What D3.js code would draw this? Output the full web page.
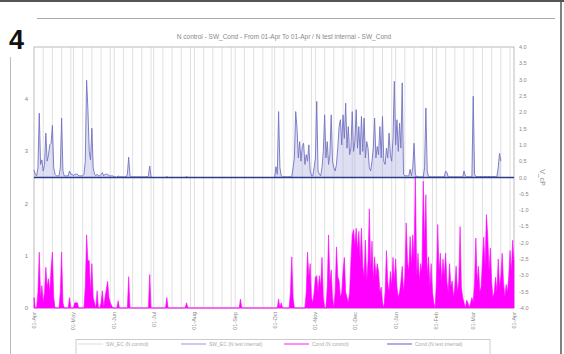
<!DOCTYPE html>
<html>
<head>
<meta charset="utf-8">
<script src="https://cdn.jsdelivr.net/npm/d3@7"></script>
<style>
  body { margin: 0; background: #fff; }
  text { font-family: "Liberation Sans", Arial, sans-serif; }
</style>
</head>
<body>
<div class="chart"></div>
<script>
const START = new Date(2012, 3, 1);
const END = new Date(2013, 3, 1);

const TITLE = "N control - SW_Cond - From 01-Apr To 01-Apr / N test internal - SW_Cond";
const MONTH_LABELS = ["01-Apr", "01-May", "01-Jun", "01-Jul", "01-Aug", "01-Sep", "01-Oct",
  "01-Nov", "01-Dec", "01-Jan", "01-Feb", "01-Mar", "01-Apr"];
const LEFT_TICKS = [0, 1, 2, 3, 4];
const RIGHT_TICKS = [4, 3.5, 3, 2.5, 2, 1.5, 1, 0.5, 0, -0.5, -1, -1.5, -2, -2.5, -3, -3.5, -4];
const LEGEND = ["SW_EC (N control)", "SW_EC (N test internal)", "Cond (N control)", "Cond (N test internal)"];

// daily values, 01-Apr .. 01-Apr (366 days)
// control: right axis
const control = [
  0.23, 0.1, 0.05, 0.3, 1.97, 0.4, 0.54, 0.2, 0.4, 1.36, 0.5, 0.69, 1.0, 1.05, 1.6, 0.3, 0.1, 0.05, 0.05, 0.05,
  0.3, 1.82, 0.2, 0.05, 0.05, 0.05, 0.05, 0.2, 0.1, 0.1, 0.05, 0.1, 0.1, 0.1, 0.05, 0.05, 0.05, 0.05, 0.1, 0.5,
  2.98, 2.08, 0.8, 0.54, 1.51, 0.3, 0.1, 0.05, 0.1, 0.05, 0.05, 0.1, 0.15, 0.05, 0.1, 0.1, 0.1, 0.05, 0.05, 0.05,
  0.05, 0.02, 0.02, 0, 0.05, 0.02, 0.02, 0.02, 0.02, 0.02, 0.02, 0.1, 0.62, 0.05, 0.02, 0.02, 0.02, 0.02, 0.02, 0.02,
  0.02, 0.02, 0.02, 0.02, 0.02, 0.02, 0.02, 0.05, 0.35, 0.02, 0, 0, 0, 0, 0, 0, 0, 0, 0, 0,
  0, 0.03, 0, 0, 0, 0, 0, 0, 0, 0, 0, 0, 0, 0, 0, 0, 0.03, 0, 0, 0,
  0, 0, 0, 0, 0, 0, 0, 0, 0, 0, 0, 0, 0, 0, 0, 0, 0, 0, 0, 0,
  0, 0, 0, 0, 0, 0, 0, 0, 0, 0, 0, 0, 0, 0, 0, 0, 0, 0, 0, 0,
  0, 0, 0, 0, 0, 0, 0, 0, 0, 0, 0, 0, 0, 0, 0, 0, 0, 0, 0, 0,
  0, 0, 0, 0, 0.33, 0.1, 2.02, 0.3, 0.05, 0.02, 0.02, 0.02, 0.02, 0.02, 0.02, 0.02, 0.02, 0.3, 0.6, 2.02,
  1.51, 0.6, 1.1, 0.5, 0.95, 1.05, 0.4, 0.7, 0.5, 1.0, 0.2, 0.05, 0.05, 0.3, 0.6, 2.33, 0.2, 0.1, 0.05, 0.3,
  0.8, 1.92, 0.6, 1.1, 0.4, 0.7, 1.92, 0.5, 0.3, 0.2, 0.4, 0.9, 1.56, 1.77, 1.0, 1.92, 1.2, 2.28, 0.9, 1.56,
  0.7, 0.9, 2.02, 0.8, 1.1, 2.08, 0.9, 1.56, 0.7, 1.87, 0.8, 1.82, 0.6, 1.1, 0.9, 0.3, 0.2, 0.5, 0.9, 1.82,
  0.6, 0.95, 0.7, 1.56, 0.6, 1.87, 0.5, 0.4, 0.9, 0.6, 1.36, 0.7, 0.5, 1.2, 2.95, 1.0, 1.77, 0.8, 1.67, 0.9,
  2.9, 0.1, 0.05, 0.05, 0.05, 0.05, 0.25, 0.05, 0.3, 1.05, 0.1, 0.02, 0.02, 0.02, 0.02, 0.02, 0.02, 0.3, 2.13, 0.2,
  0.02, 0.02, 0.02, 0.02, 0.02, 0.02, 0.02, 0.02, 0.02, 0.02, 0.02, 0.02, 0.02, 0.2, 0.15, 0.02, 0.02, 0.02, 0.02, 0.02,
  0.02, 0.02, 0.02, 0.02, 0.02, 0.02, 0.02, 0.2, 0.05, 0.02, 0.02, 0.02, 0.02, 0.02, 2.49, 0.1, 0.03, 0.03, 0.03, 0.03,
  0.03, 0.03, 0.03, 0.03, 0.03, 0.03, 0.03, 0.03, 0.03, 0.03, 0.03, 0.03, 0.03, 0.3, 0.74, 0.5
];

// test internal: left axis
const test = [
  0.2, 0, 0, 0.3, 1.07, 0.2, 0.43, 0.1, 0.3, 0.78, 0.4, 0.56, 0.3, 0.76, 1.07, 0.2, 0, 0, 0, 0,
  0.3, 1.07, 0.1, 0, 0, 0, 0, 0.2, 0, 0, 0, 0.1, 0.1, 0.1, 0, 0, 0, 0, 0, 0.4,
  1.4, 0.9, 0.91, 0.3, 0.85, 0.2, 0.1, 0, 0.33, 0, 0, 0.1, 0.33, 0, 0.2, 0.36, 0.51, 0.2, 0.1, 0.05,
  0, 0, 0, 0, 0.14, 0, 0, 0, 0, 0, 0, 0, 0.6, 0, 0, 0, 0, 0, 0, 0,
  0, 0, 0, 0, 0, 0, 0, 0, 0.64, 0, 0, 0, 0, 0, 0, 0, 0, 0, 0, 0,
  0, 0.2, 0, 0, 0, 0, 0, 0, 0, 0, 0, 0, 0, 0, 0, 0, 0.1, 0, 0, 0,
  0, 0, 0, 0, 0, 0, 0, 0, 0, 0, 0, 0, 0, 0, 0, 0, 0, 0, 0, 0,
  0, 0, 0, 0, 0, 0, 0, 0, 0, 0, 0, 0, 0, 0, 0, 0, 0, 0.17, 0, 0,
  0, 0, 0, 0, 0, 0, 0, 0, 0, 0, 0, 0, 0, 0, 0, 0, 0, 0, 0, 0,
  0, 0, 0, 0, 0, 0, 0.17, 0, 0.1, 0, 0, 0, 0, 0, 0, 0.3, 0.98, 0.2, 0, 0,
  0, 0, 0, 0, 0, 0, 0, 0.3, 1.07, 0.6, 0.85, 0.2, 0.1, 0.3, 0.59, 0.62, 0.3, 0.62, 0.4, 0.97,
  0.2, 0, 0, 0.4, 1.4, 0.5, 0.73, 0.2, 0, 0.3, 1.17, 0.6, 0.52, 0.2, 0.3, 0.7, 0.97, 0.3, 0.2, 0.1,
  0.3, 0.9, 1.4, 1.5, 1.2, 1.53, 1.1, 1.47, 0.9, 1.53, 0.8, 0.6, 1.3, 0.5, 0.9, 1.9, 0.7, 1.28, 0.5, 0.98,
  0.6, 0.85, 0.7, 0.3, 0.4, 0.1, 0, 0.3, 1.1, 0.5, 0.3, 0.7, 0.4, 0.97, 0.5, 0.94, 0.4, 0.2, 0.3, 0.5,
  0.8, 0.3, 0.6, 1.63, 0.9, 0.7, 1.37, 0.8, 1.4, 0.9, 2.53, 0.6, 1.05, 0.5, 0.85, 0.7, 2.43, 1.2, 2.17, 0.6,
  0.98, 0.4, 0.85, 0.3, 0.1, 0, 0.5, 1.6, 0.7, 1.05, 0.5, 0.94, 0.6, 1.05, 0.5, 0.3, 0.85, 0.4, 0.52, 0.2,
  0.4, 0.8, 0.3, 0.5, 1.56, 0.4, 0.2, 0.1, 0, 0.15, 0.1, 0, 0.1, 0.2, 0.1, 0.5, 1.34, 0.5, 0.8, 0.3,
  0.4, 0.9, 1.36, 0.8, 1.79, 1.4, 0.7, 1.15, 0.5, 0.2, 0.3, 0.59, 0.3, 0.94, 0.4, 0.6, 1.05, 0.5, 0.2, 0.45,
  0.3, 0.6, 1.1, 0.7, 1.3, 0.9
];

const W = 564, H = 354;
const PL = 34, PR = 514, PT = 47, PB = 308;

const svg = d3.select(".chart").append("svg").attr("width", W).attr("height", H);

// page frame
svg.append("line").attr("x1", 0).attr("x2", W).attr("y1", 1).attr("y2", 1)
  .attr("stroke", "#555").attr("stroke-width", 2);
svg.append("line").attr("x1", 561).attr("x2", 561).attr("y1", 0).attr("y2", H)
  .attr("stroke", "#555").attr("stroke-width", 1.5);
svg.append("line").attr("x1", 37).attr("x2", 555).attr("y1", 18.5).attr("y2", 18.5)
  .attr("stroke", "#aaa").attr("stroke-width", 1);
svg.append("line").attr("x1", 10.5).attr("x2", 10.5).attr("y1", 57).attr("y2", H)
  .attr("stroke", "#bbb").attr("stroke-width", 1);
svg.append("text").attr("x", 9).attr("y", 49).text("4")
  .attr("font-size", 27).attr("font-weight", "bold").attr("fill", "#111");

const days = d3.timeDay.range(START, d3.timeDay.offset(END, 1));

const x = d3.scaleTime().domain([START, END]).range([PL, PR]);
const yL = d3.scaleLinear().domain([0, 5]).range([PB, PT]);
const yR = d3.scaleLinear().domain([-4, 4]).range([PB, PT]);

svg.append("text").attr("x", 284).attr("y", 39).attr("text-anchor", "middle")
  .attr("font-size", 6.5).attr("fill", "#888").text(TITLE);

const plot = svg.append("g");

// weekly grid
plot.append("g").selectAll("line")
  .data(d3.timeDay.every(7).range(START, END).slice(1))
  .join("line")
  .attr("x1", d => x(d)).attr("x2", d => x(d))
  .attr("y1", PT).attr("y2", PB)
  .attr("stroke", "#d8d8d8").attr("stroke-width", 0.8);

plot.append("rect").attr("x", PL).attr("y", PT).attr("width", PR - PL).attr("height", PB - PT)
  .attr("fill", "none").attr("stroke", "#bbb");

// test series (magenta)
plot.append("path").datum(test)
  .attr("d", d3.area().x((d, i) => x(days[i])).y0(yL(0)).y1(d => yL(d)))
  .attr("fill", "#ff00ff").attr("stroke", "#ff00ff").attr("stroke-width", 0.6);

// control series (blue)
plot.append("path").datum(control)
  .attr("d", d3.area().x((d, i) => x(days[i])).y0(yR(0)).y1(d => yR(d)))
  .attr("fill", "#a3a3dc").attr("fill-opacity", 0.35);
plot.append("path").datum(control)
  .attr("d", d3.line().x((d, i) => x(days[i])).y(d => yR(d)))
  .attr("fill", "none").attr("stroke", "#7373c2").attr("stroke-width", 0.9);

// zero line
plot.append("line").attr("x1", PL).attr("x2", PR).attr("y1", yR(0)).attr("y2", yR(0))
  .attr("stroke", "#2b3c8a").attr("stroke-width", 1.6);

// left axis labels
svg.append("g").selectAll("text").data(LEFT_TICKS).join("text")
  .attr("x", 28).attr("y", d => yL(d) + 2).attr("text-anchor", "end")
  .attr("font-size", 6).attr("fill", "#888").text(d => d);

// right axis labels
svg.append("g").selectAll("text").data(RIGHT_TICKS).join("text")
  .attr("x", 519).attr("y", d => yR(d) + 2)
  .attr("font-size", 5.5).attr("fill", "#888").text(d => d.toFixed(1));
svg.append("text").attr("transform", `translate(540,${yR(0)}) rotate(90)`)
  .attr("text-anchor", "middle").attr("font-size", 7).attr("fill", "#888").text("V_cP");

// month labels
const months = d3.timeMonth.range(START, d3.timeDay.offset(END, 1));
svg.append("g").selectAll("text").data(months).join("text")
  .attr("transform", (d, i) => `translate(${x(d) + 2},312) rotate(-90)`)
  .attr("text-anchor", "end").attr("font-size", 5.5).attr("fill", "#888")
  .text((d, i) => MONTH_LABELS[i]);

// legend
const legend = svg.append("g");
legend.append("rect").attr("x", 76).attr("y", 339.5).attr("width", 414).attr("height", 20)
  .attr("fill", "#fff").attr("stroke", "#ccc");
const swatch = ["#e8e8e8", "#b8b8ea", "#ff66ff", "#9c8ee0"];
legend.selectAll("g").data(LEGEND).join("g")
  .attr("transform", (d, i) => `translate(${78 + i * 103},344)`)
  .each(function (d, i) {
    const g = d3.select(this);
    g.append("line").attr("x1", 0).attr("x2", 25).attr("stroke", swatch[i]).attr("stroke-width", 1.5);
    g.append("text").attr("x", 28).attr("y", 2).attr("font-size", 5).attr("fill", "#aaa").text(d);
  });
</script>
</body>
</html>
